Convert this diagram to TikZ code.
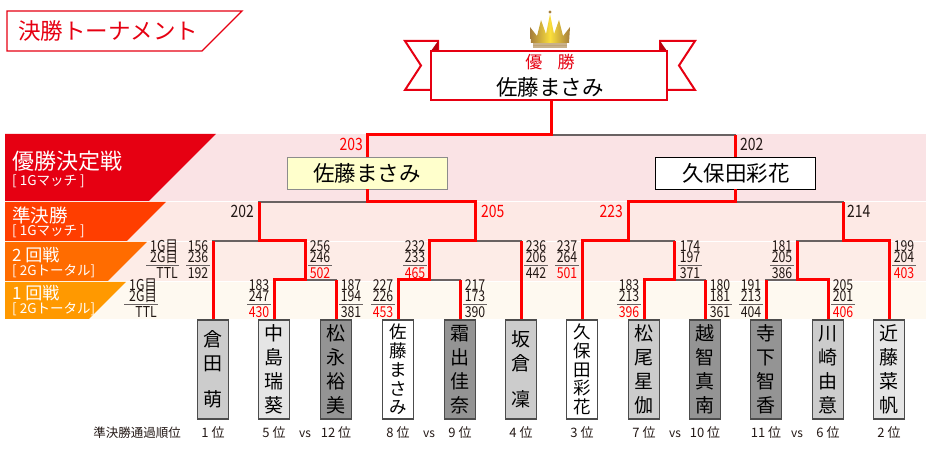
\documentclass[tikz,border=0pt]{standalone}
\usepackage{fontspec}
\setmainfont{Noto Sans CJK JP}
\newfontfamily\numfont[FakeStretch=0.82]{Noto Sans CJK JP}
\definecolor{ink}{RGB}{35,24,21}
\definecolor{ribbonred}{RGB}{230,0,18}
\definecolor{winred}{RGB}{255,0,0}
\definecolor{losegray}{RGB}{105,98,98}
\definecolor{bandfinal}{RGB}{250,227,229}
\definecolor{bandsemi}{RGB}{253,233,229}
\definecolor{bandsecond}{RGB}{253,236,231}
\definecolor{bandfirst}{RGB}{254,249,240}
\definecolor{tabfinal}{RGB}{230,0,18}
\definecolor{tabsemi}{RGB}{255,62,0}
\definecolor{tabsecond}{RGB}{255,108,0}
\definecolor{tabfirst}{RGB}{255,153,0}
\definecolor{finalyellow}{RGB}{255,255,204}
\definecolor{crownedge}{RGB}{165,125,60}
\definecolor{crownmid}{RGB}{250,222,60}
\tikzset{
  win/.style={draw=winred, line width=3pt, line join=miter},
  lose/.style={draw=losegray, line width=1.3pt},
  entrant/.style={draw=black!70, line width=1.3pt, minimum width=31pt,
    minimum height=99pt, inner sep=0pt, align=center,
    font=\fontsize{19}{24}\selectfont},
  roundname/.style={anchor=west, inner sep=0pt, text=white},
  roundsub/.style={anchor=west, inner sep=0pt, text=white,
    font=\fontsize{13.5}{14}\selectfont},
  tnum/.style={inner sep=0pt, text height=9pt, text depth=0pt, text=ink,
    font=\numfont\fontsize{15}{15}\selectfont},
  bignum/.style={inner sep=0pt, text=ink, font=\numfont\fontsize{17}{17}\selectfont},
  tbar/.style={draw=losegray, line width=1.3pt},
  rank/.style={inner sep=0pt, text=ink, font=\fontsize{13}{14}\selectfont},
  finalist/.style={minimum width=160pt, minimum height=32pt, inner sep=0pt,
    font=\fontsize{21.5}{24}\selectfont}
}
% score block: name, x, y of the rule, 1G, 2G, total, colour of total
\newcommand\tally[7]{%
  \node[tnum] (#1a) at (#2,#3-18.5) {#4};
  \node[tnum] (#1b) at (#2,#3-7.5) {#5};
  \node[tnum,text=#7] (#1t) at (#2,#3+9) {#6};
  \draw[tbar] (#2-12,#3) -- (#2+12,#3);
}
\begin{document}
\begin{tikzpicture}[x=1pt,y=-1pt]
  \useasboundingbox (0,0) rectangle (930,470);
  % title
  \draw[ribbonred, line width=1.3pt, fill=white]
    (7,11) -- (242,11) -- (202,51) -- (7,51) -- cycle;
  \node[anchor=west, inner sep=0pt, text=ribbonred, font=\fontsize{22.5}{24}\selectfont]
    (title) at (18,31) {決勝トーナメント};

  % round bands
  \fill[bandfinal] (5,134) rectangle (926,201);
  \fill[bandsemi] (5,202) rectangle (926,241);
  \fill[bandsecond] (5,242) rectangle (926,281);
  \fill[bandfirst] (5,282) rectangle (926,319);
  \fill[tabfinal] (5,134) -- (216,134) -- (149,201) -- (5,201) -- cycle;
  \fill[tabsemi] (5,202) -- (166,202) -- (127,241) -- (5,241) -- cycle;
  \fill[tabsecond] (5,242) -- (147,242) -- (108,281) -- (5,281) -- cycle;
  \fill[tabfirst] (5,282) -- (126,282) -- (89,319) -- (5,319) -- cycle;
  \node[roundname, font=\fontsize{22}{24}\selectfont] (rfinal) at (12,161) {優勝決定戦};
  \node[roundsub] (rfinals) at (12,181) {[ 1Gマッチ ]};
  \node[roundname, font=\fontsize{18.5}{20}\selectfont] (rsemi) at (12,215) {準決勝};
  \node[roundsub] (rsemis) at (12,231) {[ 1Gマッチ ]};
  \node[roundname, font=\fontsize{17}{20}\selectfont] (rsecond) at (12,255) {2 回戦};
  \node[roundsub] (rseconds) at (12,271) {[ 2Gトータル]};
  \node[roundname, font=\fontsize{17}{20}\selectfont] (rfirst) at (12,293) {1 回戦};
  \node[roundsub] (rfirsts) at (12,309) {[ 2Gトータル]};

  % legends
  \node[tnum, anchor=east] (lg2a) at (178,247) {1G目};
  \node[tnum, anchor=east] (lg2b) at (178,258) {2G目};
  \draw[tbar] (146,265.5) -- (179,265.5);
  \node[tnum, anchor=east] (lg2t) at (178,274.5) {TTL};
  \node[tnum, anchor=east] (lg1a) at (157,286) {1G目};
  \node[tnum, anchor=east] (lg1b) at (157,297) {2G目};
  \draw[tbar] (124,304.5) -- (158,304.5);
  \node[tnum, anchor=east] (lg1t) at (157,313.5) {TTL};

  % entrants
  \node[entrant, fill=black!20] (p1) at (213,369.5) {倉\\田\\[12pt]萌};
  \node[entrant, fill=black!10] (p2) at (274,369.5) {中\\島\\瑞\\葵};
  \node[entrant, fill=black!42] (p3) at (336,369.5) {松\\永\\裕\\美};
  \node[entrant, fill=white, font=\fontsize{17.5}{18.75}\selectfont] (p4) at (398,369.5) {佐\\藤\\ま\\さ\\み};
  \node[entrant, fill=black!42] (p5) at (460,369.5) {霜\\出\\佳\\奈};
  \node[entrant, fill=black!20] (p6) at (521,369.5) {坂\\倉\\[12pt]凜};
  \node[entrant, fill=white, font=\fontsize{17.5}{18.75}\selectfont] (p7) at (582,369.5) {久\\保\\田\\彩\\花};
  \node[entrant, fill=black!20] (p8) at (644,369.5) {松\\尾\\星\\伽};
  \node[entrant, fill=black!42] (p9) at (705,369.5) {越\\智\\真\\南};
  \node[entrant, fill=black!42] (p10) at (766,369.5) {寺\\下\\智\\香};
  \node[entrant, fill=black!20] (p11) at (828,369.5) {川\\崎\\由\\意};
  \node[entrant, fill=black!10] (p12) at (889,369.5) {近\\藤\\菜\\帆};

  % seeding
  \node[rank, font=\fontsize{12.5}{14}\selectfont] (seed) at (137,433) {準決勝通過順位};
  \node[rank] (k1) at (213,433) {1 位};
  \node[rank] (k2) at (274,433) {5 位};
  \node[rank] (k3) at (336,433) {12 位};
  \node[rank] (k4) at (398,433) {8 位};
  \node[rank] (k5) at (460,433) {9 位};
  \node[rank] (k6) at (521,433) {4 位};
  \node[rank] (k7) at (582,433) {3 位};
  \node[rank] (k8) at (644,433) {7 位};
  \node[rank] (k9) at (705,433) {10 位};
  \node[rank] (k10) at (766,433) {11 位};
  \node[rank] (k11) at (828,433) {6 位};
  \node[rank] (k12) at (889,433) {2 位};
  \node[rank, font=\fontsize{12}{14}\selectfont] (vs1) at (305,434) {vs};
  \node[rank, font=\fontsize{12}{14}\selectfont] (vs2) at (429,434) {vs};
  \node[rank, font=\fontsize{12}{14}\selectfont] (vs3) at (675,434) {vs};
  \node[rank, font=\fontsize{12}{14}\selectfont] (vs4) at (797,434) {vs};

  % finalists and champion
  \node[finalist, draw=black!45, fill=finalyellow] (fa) at (367,173) {佐藤まさみ};
  \node[finalist, draw=black, line width=0.8pt, fill=white] (fb) at (735.75,173) {久保田彩花};
  \filldraw[draw=ribbonred, fill=white, line width=2pt]
    (405,41) -- (438,41) -- (438,90) -- (405,90) -- (421,65.5) -- cycle;
  \filldraw[draw=ribbonred, fill=white, line width=2pt]
    (660,41) -- (695,41) -- (679,65.5) -- (695,90) -- (660,90) -- cycle;
  \fill[ribbonred!80!black] (431,51) -- (438,41) -- (438,51) -- cycle;
  \fill[ribbonred!80!black] (660,41) -- (667,51) -- (660,51) -- cycle;
  \node[draw=ribbonred, line width=2.5pt, fill=white, minimum width=236pt,
    minimum height=49pt, inner sep=0pt] (champ) at (549,75.5) {};
  \node[inner sep=0pt, text=ribbonred, font=\fontsize{17}{18}\selectfont]
    (champt) at (550,62) {優\hspace{0.9em}勝};
  \node[inner sep=0pt, font=\fontsize{21.5}{24}\selectfont] (champn) at (550,87) {佐藤まさみ};
  % crown
  \shade[left color=crownedge, right color=crownedge, middle color=crownmid]
    (531,43) -- (530,27) -- (537,36) -- (541,20) -- (546,34) -- (550,14)
    -- (554,34) -- (559,20) -- (563,36) -- (570,27) -- (569,43) -- cycle;
  \fill[crownedge] (550,12) circle (1.6);
  \fill[crownedge!60!white] (533,43) rectangle (567,48);
  \draw[crownedge!70!white, line width=0.6pt] (533,45.5) -- (567,45.5);

  % bracket points
  \coordinate (m1) at (305,280);
  \coordinate (m2) at (429,280);
  \coordinate (m3) at (674.5,280);
  \coordinate (m4) at (797,280);
  \coordinate (q1) at (259,241);
  \coordinate (q2) at (475,241);
  \coordinate (q3) at (628.5,241);
  \coordinate (q4) at (843,241);
  \coordinate (s1) at (367,202);
  \coordinate (s2) at (735.75,202);
  \coordinate (f) at (551,135);

  \begin{scope}[lose]
    \draw (p2.north) |- (m1) -| (p3.north);
    \draw (p4.north) |- (m2) -| (p5.north);
    \draw (p8.north) |- (m3) -| (p9.north);
    \draw (p10.north) |- (m4) -| (p11.north);
    \draw (p1.north) |- (q1) -| (m1);
    \draw (m2) |- (q2) -| (p6.north);
    \draw (p7.north) |- (q3) -| (m3);
    \draw (m4) |- (q4) -| (p12.north);
    \draw (q1) |- (s1) -| (q2);
    \draw (q3) |- (s2) -| (q4);
    \draw (fa.north) |- (f) -| (fb.north);
  \end{scope}
  \begin{scope}[win]
    \foreach \p in {p2,p3,p4,p5,p8,p9,p10,p11}
      \draw (\p.north) -- (\p.north |- m1);
    \foreach \p in {p1,p6,p7,p12}
      \draw (\p.north) -- (\p.north |- q1);
    \draw (p2.north) |- (m1) |- (q1) -- (q1 |- s1);
    \draw (p4.north) |- (m2) |- (q2) |- (s1) -- (fa.south);
    \draw (fa.north) |- (f) -- (f |- champ.south);
    \draw (p8.north) |- (m3) -- (m3 |- q3);
    \draw (p7.north) |- (q3) |- (s2) -- (fb.south);
    \draw (fb.north) -- (fb.north |- f);
    \draw (p11.north) |- (m4) -- (m4 |- q4);
    \draw (p12.north) |- (q4) -- (q4 |- s2);
  \end{scope}

  % scores
  \node[bignum, anchor=east, text=winred] (sc203) at (363,144) {203};
  \node[bignum, anchor=west] (sc202b) at (740,144) {202};
  \node[bignum, anchor=east] (sc202) at (254,211) {202};
  \node[bignum, anchor=west, text=winred] (sc205) at (481,211) {205};
  \node[bignum, anchor=east, text=winred] (sc223) at (623,211) {223};
  \node[bignum, anchor=west] (sc214) at (847,211) {214};
  \tally{ta}{198}{265.5}{156}{236}{192}{ink}
  \tally{tb}{320}{265.5}{256}{246}{502}{winred}
  \tally{tc}{415}{265.5}{232}{233}{465}{winred}
  \tally{td}{536}{265.5}{236}{206}{442}{ink}
  \tally{te}{567}{265.5}{237}{264}{501}{winred}
  \tally{tf}{690}{265.5}{174}{197}{371}{ink}
  \tally{tg}{782}{265.5}{181}{205}{386}{ink}
  \tally{th}{904}{265.5}{199}{204}{403}{winred}
  \tally{ua}{259}{304.5}{183}{247}{430}{winred}
  \tally{ub}{351}{304.5}{187}{194}{381}{ink}
  \tally{uc}{383}{304.5}{227}{226}{453}{winred}
  \tally{ud}{475}{304.5}{217}{173}{390}{ink}
  \tally{ue}{629}{304.5}{183}{213}{396}{winred}
  \tally{uf}{720}{304.5}{180}{181}{361}{ink}
  \tally{ug}{751}{304.5}{191}{213}{404}{ink}
  \tally{uh}{843}{304.5}{205}{201}{406}{winred}
\end{tikzpicture}
\end{document}
